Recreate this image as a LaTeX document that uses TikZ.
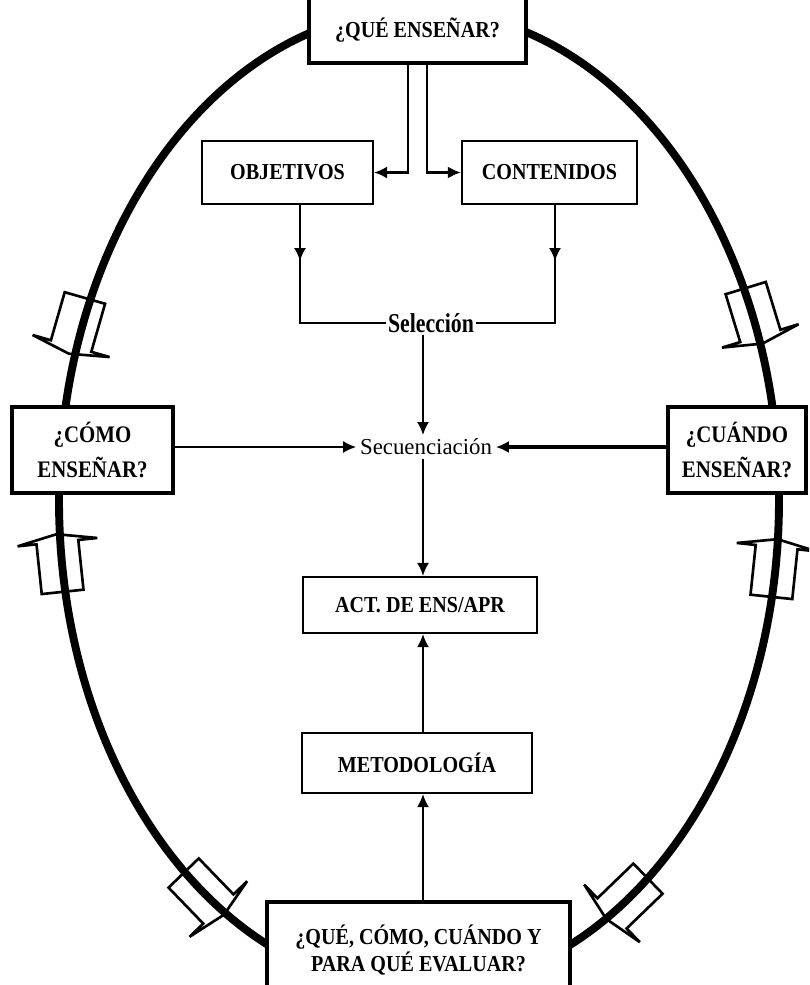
\documentclass[tikz,border=0pt]{standalone}
\usepackage{fontspec}
\setmainfont{Liberation Serif}
\newfontfamily\boxfont[FakeStretch=0.88]{Liberation Serif Bold}
\newfontfamily\selfont[FakeStretch=0.8]{Liberation Serif Bold}
\usetikzlibrary{arrows.meta,decorations.markings}

\tikzset{
  qbox/.style={draw, line width=2pt, fill=white, align=center, inner sep=0pt,
    font=\boxfont\fontsize{13}{15}\selectfont},
  sidebox/.style={qbox, font=\boxfont\fontsize{13.5}{20}\selectfont},
  ibox/.style={draw, line width=1.2pt, fill=white, inner sep=0pt,
    font=\boxfont\fontsize{13}{15}\selectfont},
  link/.style={line width=1.2pt, -{Latex[length=0.26cm,width=0.24cm]}},
  heavylink/.style={link, line width=1.8pt},
  midarrow/.style={line width=1.2pt, postaction={decorate},
    decoration={markings, mark=at position 1.12cm with {\arrow{Latex[length=0.26cm,width=0.24cm]}}}},
  pics/openarrow/.style={code={
    \draw[line width=1.5pt, line join=miter]
      (-25,21) -- (25,21) -- (25,40) -- (33,0) -- (25,-40) -- (25,-21) -- (-25,-21) -- cycle;
  }}
}

\begin{document}
\begin{tikzpicture}[x=0.02cm, y=0.02cm]
  \useasboundingbox (0,0) rectangle (809,-985);
  \clip (0,0) rectangle (809,-985);

  % The cycle
  \draw[line width=4.5pt] (419,-500) ellipse [x radius=360, y radius=490];

  % Hollow arrows on the cycle
  \pic[rotate=-106] at (78,-322) {openarrow};
  \pic[rotate=96] at (60,-567) {openarrow};
  \pic[rotate=-73] at (753,-312) {openarrow};
  \pic[rotate=84] at (774,-572) {openarrow};
  \pic[rotate=-46] at (201,-891) {openarrow};
  \pic[rotate=224] at (630,-896) {openarrow};

  % Questions
  \node[qbox, minimum width=4.34cm, minimum height=1.32cm] (que) at (417.5,-30) {¿QUÉ ENSEÑAR?};
  \node[sidebox, minimum width=3.22cm, minimum height=1.72cm] (como) at (92.5,-450) {¿CÓMO\\ENSEÑAR?};
  \node[sidebox, minimum width=2.76cm, minimum height=1.72cm] (cuando) at (737,-450) {¿CUÁNDO\\ENSEÑAR?};
  \node[qbox, minimum width=6.06cm, minimum height=1.92cm] (evaluar) at (418.5,-950) {¿QUÉ, CÓMO, CUÁNDO Y\\PARA QUÉ EVALUAR?};

  % Inner boxes
  \node[ibox, minimum width=3.42cm, minimum height=1.26cm] (obj) at (287.5,-172.5) {OBJETIVOS};
  \node[ibox, minimum width=3.5cm, minimum height=1.26cm] (cont) at (549.5,-172.5) {CONTENIDOS};
  \node[ibox, minimum width=4.68cm, minimum height=1.12cm] (act) at (420,-605) {ACT. DE ENS/APR};
  \node[ibox, minimum width=4.6cm, minimum height=1.2cm] (met) at (417,-763) {METODOLOGÍA};

  % Plain labels
  \node[font=\selfont\fontsize{15.5}{16}\selectfont, inner sep=1pt] (sel) at (431,-323) {Selección};
  \node[font=\fontsize{13}{15}\selectfont, inner sep=2pt] (sec) at (426,-447) {Secuenciación};
  \coordinate (axis) at (423,0);

  % Connectors
  \draw[link] ([xshift=-0.19cm]que.south) |- (obj.east);
  \draw[link, line width=1.6pt] ([xshift=0.19cm]que.south) |- (cont.west);
  \draw[midarrow] ([xshift=0.25cm]obj.south) |- (sel.west);
  \draw[midarrow] ([xshift=0.11cm]cont.south) |- (sel.east);
  \draw[link] (sel.south -| axis) -- (sec.north -| axis);
  \draw[link] (como.east |- sec.west) -- (sec.west);
  \draw[heavylink] (cuando.west |- sec.east) -- (sec.east);
  \draw[link] (sec.south -| axis) -- (act.north -| axis);
  \draw[link] (met.north -| axis) -- (act.south -| axis);
  \draw[link] (evaluar.north -| axis) -- (met.south -| axis);
\end{tikzpicture}
\end{document}
